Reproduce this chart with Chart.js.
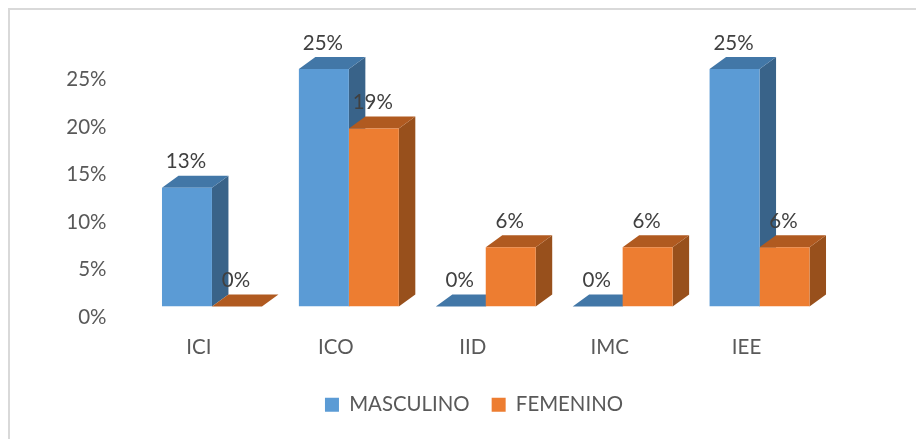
<!DOCTYPE html>
<html lang="es">
<head>
    <meta charset="UTF-8">
    <title>Masculino / Femenino</title>
    <script src="https://cdn.jsdelivr.net/npm/chart.js"></script>
    <style>
        html, body { margin: 0; padding: 0; background: #fff; }
        #container { position: relative; width: 916px; height: 439px; overflow: hidden; }
        #frame { position: absolute; left: 8px; top: 8px; width: 920px; height: 440px; border: 2px solid #d9d9d9; border-right: 0; border-bottom: 0; }
        canvas { position: absolute; left: 0; top: 0; }
    </style>
</head>
<body>

<div id="container">
    <div id="frame"></div>
    <canvas id="myChart" width="916" height="439"></canvas>
</div>

<script>
const categories = ['ICI', 'ICO', 'IID', 'IMC', 'IEE'];
const masculino = [12.5, 25, 0, 0, 25];
const femenino = [0, 18.75, 6.25, 6.25, 6.25];
const yTicks = [0, 5, 10, 15, 20, 25];

const FONT = 'Lato';
const DEPTH_X = 16.5;
const DEPTH_Y = 12;

function quad(ctx, pts, color) {
    ctx.fillStyle = color;
    ctx.beginPath();
    pts.forEach((p, i) => i ? ctx.lineTo(p[0], p[1]) : ctx.moveTo(p[0], p[1]));
    ctx.closePath();
    ctx.fill();
}

// side and top faces of the bars, under the front faces the library draws
const bars3d = {
    id: 'bars3d',
    beforeDatasetsDraw(chart) {
        const ctx = chart.ctx;
        chart.data.datasets.forEach((ds, i) => {
            chart.getDatasetMeta(i).data.forEach(bar => {
                const { x, y, base, width } = bar.getProps(['x', 'y', 'base', 'width'], true);
                const l = x - width / 2, r = x + width / 2;
                quad(ctx, [[r, y], [r + DEPTH_X, y - DEPTH_Y], [r + DEPTH_X, base - DEPTH_Y], [r, base]], ds.sideColor);
                quad(ctx, [[l, y], [l + DEPTH_X, y - DEPTH_Y], [r + DEPTH_X, y - DEPTH_Y], [r, y]], ds.topColor);
            });
        });
    }
};

const valueLabels = {
    id: 'valueLabels',
    afterDatasetsDraw(chart) {
        const ctx = chart.ctx;
        ctx.save();
        ctx.font = '20.5px ' + FONT;
        ctx.fillStyle = '#404040';
        ctx.textAlign = 'center';
        ctx.textBaseline = 'middle';
        chart.data.datasets.forEach((ds, i) => {
            chart.getDatasetMeta(i).data.forEach((bar, j) => {
                ctx.fillText(Math.round(ds.data[j]) + '%', bar.x - 1, bar.y - 26);
            });
        });
        ctx.restore();
    }
};

// the legend is not centred on the canvas in the original
const legendShift = {
    id: 'legendShift',
    afterLayout(chart) {
        chart.legend.left += 60;
        chart.legend.right += 60;
    }
};

new Chart(document.getElementById('myChart'), {
    type: 'bar',
    data: {
        labels: categories,
        datasets: [
            {
                label: 'MASCULINO',
                data: masculino,
                backgroundColor: '#5b9bd5',
                topColor: '#4277a7',
                sideColor: '#396389'
            },
            {
                label: 'FEMENINO',
                data: femenino,
                backgroundColor: '#ed7d31',
                topColor: '#b05a20',
                sideColor: '#98501c'
            }
        ]
    },
    options: {
        responsive: false,
        animation: false,
        layout: { padding: { top: 69, right: 88, bottom: 14, left: 0 } },
        datasets: { bar: { barPercentage: 1, categoryPercentage: 0.73 } },
        scales: {
            x: {
                grid: { display: false },
                border: { display: false },
                ticks: { font: { family: FONT, size: 20.5 }, color: '#595959', padding: 20, labelOffset: -13, maxRotation: 0 },
                afterFit(scale) { scale.height = 66; }
            },
            y: {
                min: 0,
                max: 25,
                afterBuildTicks(scale) { scale.ticks = yTicks.map(v => ({ value: v })); },
                grid: { display: false },
                border: { display: false },
                ticks: {
                    font: { family: FONT, size: 20.5 },
                    color: '#595959',
                    padding: 29,
                    labelOffset: 10.5,
                    callback: v => v + '%'
                },
                afterFit(scale) { scale.width = 143.5; }
            }
        },
        plugins: {
            tooltip: { enabled: false },
            legend: {
                position: 'bottom',
                labels: {
                    font: { family: FONT, size: 20.4 },
                    color: '#595959',
                    boxWidth: 14,
                    boxHeight: 14,
                    padding: 22
                }
            }
        }
    },
    plugins: [bars3d, valueLabels, legendShift]
});
</script>

</body>
</html>
